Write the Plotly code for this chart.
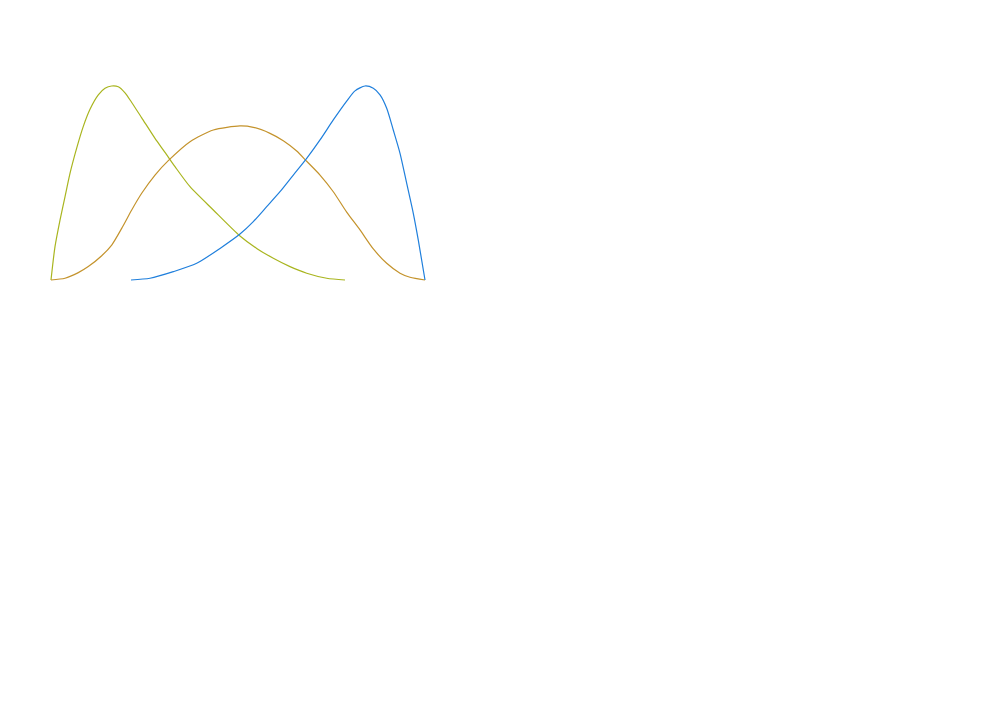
import plotly.graph_objects as go

# Curve samples (x: 0..1 across the span, y: relative height)
yellow_x = [0.0, 0.0107, 0.0241, 0.0374, 0.0508, 0.0687, 0.0864, 0.1043, 0.1265, 0.1444,
            0.1623, 0.1799, 0.1979, 0.2158, 0.2425, 0.2781, 0.3048, 0.3316, 0.3717, 0.434,
            0.5053, 0.55, 0.5944, 0.639, 0.6837, 0.7372, 0.7861]
yellow_y = [0.0, 0.172, 0.309, 0.429, 0.550, 0.680, 0.792, 0.880, 0.954, 0.988,
            1.0, 0.996, 0.965, 0.915, 0.836, 0.730, 0.658, 0.584, 0.481, 0.361,
            0.227, 0.163, 0.112, 0.069, 0.035, 0.009, 0.0]

gold_x = [0.0, 0.0374, 0.073, 0.0997, 0.1356, 0.1623, 0.189, 0.2158, 0.2425, 0.2781,
          0.3136, 0.3717, 0.434, 0.5053, 0.5409, 0.5856, 0.6211, 0.657, 0.6837, 0.7193,
          0.7548, 0.7906, 0.8262, 0.8618, 0.8976, 0.9332, 0.9599, 1.0]
gold_y = [0.0, 0.009, 0.038, 0.069, 0.125, 0.180, 0.266, 0.361, 0.447, 0.541,
          0.615, 0.713, 0.773, 0.794, 0.787, 0.756, 0.718, 0.665, 0.612, 0.541,
          0.455, 0.350, 0.258, 0.160, 0.086, 0.035, 0.014, 0.0]

blue_x = [0.2139, 0.2647, 0.327, 0.3896, 0.4519, 0.5053, 0.5409, 0.5767, 0.6123, 0.6479,
          0.6837, 0.7193, 0.7548, 0.7906, 0.8128, 0.8396, 0.8618, 0.8797, 0.8976, 0.9152,
          0.9332, 0.9511, 0.9687, 0.9821, 1.0]
blue_y = [0.0, 0.009, 0.043, 0.086, 0.163, 0.237, 0.301, 0.378, 0.455, 0.541,
          0.627, 0.722, 0.825, 0.922, 0.975, 1.0, 0.988, 0.954, 0.885, 0.773,
          0.653, 0.498, 0.344, 0.206, 0.0]

series = [
    (yellow_x, yellow_y, "#a9b51f"),
    (gold_x, gold_y, "#c4932c"),
    (blue_x, blue_y, "#1f7fdc"),
]

fig = go.Figure()
for xs, ys, col in series:
    fig.add_trace(go.Scatter(x=xs, y=ys, mode="lines",
                             line=dict(color=col, width=1.2, shape="spline", smoothing=0.7),
                             hoverinfo="skip", showlegend=False))

fig.update_layout(
    width=1000, height=702,
    margin=dict(l=33, r=573, t=68, b=420),
    paper_bgcolor="white", plot_bgcolor="white",
    xaxis=dict(range=[-0.02674, 1.02674], visible=False),
    yaxis=dict(range=[-0.05155, 1.05155], visible=False),
)

fig.write_html("out.html")
